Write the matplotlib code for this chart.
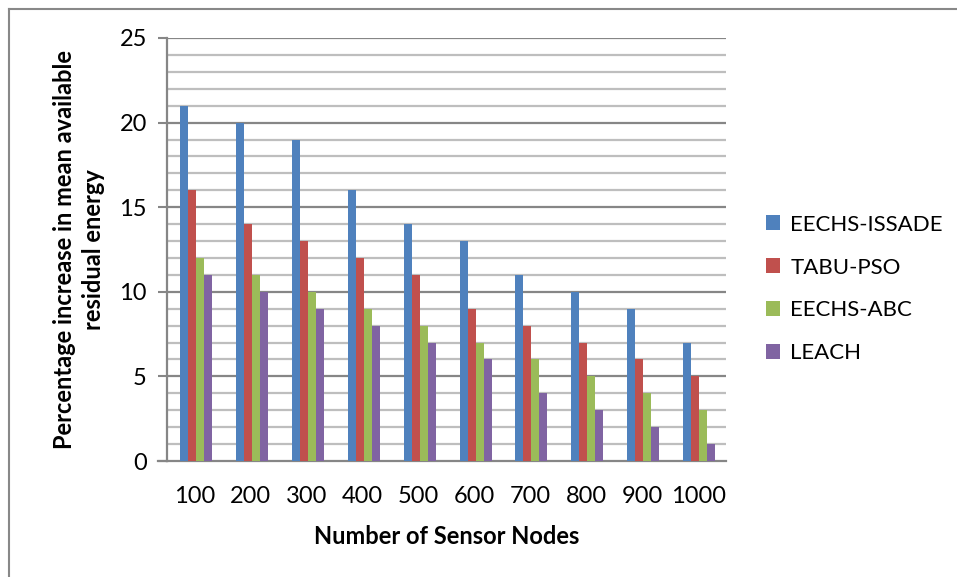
import numpy as np
import matplotlib.pyplot as plt
from matplotlib.lines import Line2D

plt.rcParams['font.family'] = ['Lato', 'DejaVu Sans']

nodes = ['100', '200', '300', '400', '500', '600', '700', '800', '900', '1000']
series = ['EECHS-ISSADE', 'TABU-PSO', 'EECHS-ABC', 'LEACH']
issade = [21, 20, 19, 16, 14, 13, 11, 10, 9, 7]
tabu_pso = [16, 14, 13, 12, 11, 9, 8, 7, 6, 5]
abc = [12, 11, 10, 9, 8, 7, 6, 5, 4, 3]
leach = [11, 10, 9, 8, 7, 6, 4, 3, 2, 1]
colors = ['#4F81BD', '#C0504D', '#9BBB59', '#8064A2']

fig = plt.figure(figsize=(9.57, 5.77), dpi=100)
ax = fig.add_axes([167 / 957, 1 - 461 / 577, (726 - 167) / 957, (461 - 38) / 577])

x = np.arange(len(nodes))
w = 0.143
for i, (vals, name) in enumerate(zip([issade, tabu_pso, abc, leach], series)):
    ax.bar(x + (i - 1.5) * w + 0.02, vals, width=w, color=colors[i], label=name, zorder=3)

ax.set_xlim(-0.5, len(nodes) - 0.5)
ax.set_ylim(0, 25)

# gridlines every 1, darker every 5
for y in range(1, 26):
    if y % 5 == 0:
        ax.axhline(y, color='#868686', lw=1.6, zorder=1)
    else:
        ax.axhline(y, color='#BEBEBE', lw=1.6, zorder=1)

ax.set_yticks(range(0, 26, 5))
ax.set_xticks(x)
ax.set_xticklabels(nodes)
ax.tick_params(axis='y', length=6.5, width=1.5, color='#868686', labelsize=17, pad=8)
ax.tick_params(axis='x', length=0, labelsize=17, pad=18)

for s in ['top', 'right']:
    ax.spines[s].set_visible(False)
for s in ['left', 'bottom']:
    ax.spines[s].set_color('#868686')
    ax.spines[s].set_linewidth(1.6)
# x axis line extends under the zero tick
ax.plot([-0.5 - 9 / 55.9, -0.5], [0, 0], color='#868686', lw=1.6, clip_on=False, zorder=4)

ax.set_xlabel('Number of Sensor Nodes', fontsize=17, fontweight='bold', labelpad=13)
ax.set_ylabel('Percentage increase in mean available\nresidual energy', fontsize=17,
              fontweight='bold', labelpad=10, linespacing=1.35)

leg = fig.legend(loc='center left', bbox_to_anchor=(766 / 957, 1 - 289 / 577), frameon=False,
                 fontsize=16, handlelength=0.65, handleheight=0.65, handletextpad=0.45,
                 labelspacing=1.03, borderaxespad=0, borderpad=0)

# outer frame lines (top and left)
fig.add_artist(Line2D([9 / 957, 1], [1 - 9 / 577, 1 - 9 / 577], color='#888888', lw=1.5))
fig.add_artist(Line2D([9 / 957, 9 / 957], [0, 1 - 9 / 577], color='#888888', lw=1.5))

fig.savefig('out.png', dpi=100)
